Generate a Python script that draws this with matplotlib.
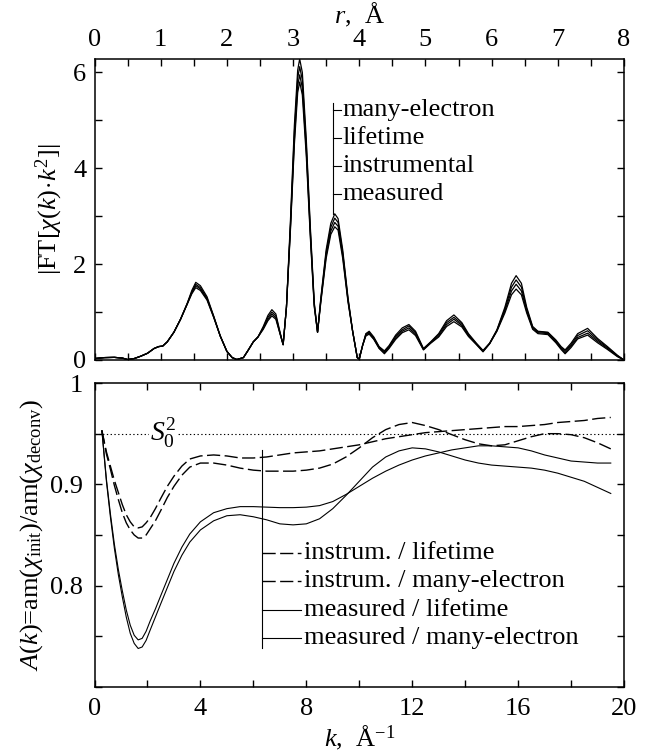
import matplotlib
matplotlib.use('Agg')
import matplotlib.pyplot as plt
from matplotlib.ticker import MultipleLocator, FixedLocator

# ---- top panel: |FT[chi(k) k^2]| vs r (four curves on a shared r grid)
r_grid = [0.00, 0.15, 0.30, 0.42, 0.50, 0.60, 0.70, 0.80, 0.90, 0.97,
          1.03, 1.10, 1.20, 1.30, 1.40, 1.47, 1.53, 1.60, 1.70, 1.80,
          1.90, 2.00, 2.08, 2.15, 2.25, 2.32, 2.40, 2.47, 2.55, 2.62,
          2.68, 2.74, 2.80, 2.85, 2.90, 2.96, 3.02, 3.07, 3.10, 3.14,
          3.20, 3.26, 3.32, 3.37, 3.42, 3.50, 3.57, 3.63, 3.68, 3.75,
          3.83, 3.90, 3.97, 4.00, 4.05, 4.10, 4.15, 4.22, 4.30, 4.38,
          4.45, 4.55, 4.65, 4.75, 4.85, 4.97, 5.08, 5.20, 5.32, 5.43,
          5.55, 5.65, 5.77, 5.87, 5.97, 6.08, 6.20, 6.30, 6.37, 6.45,
          6.53, 6.62, 6.70, 6.85, 6.97, 7.05, 7.11, 7.20, 7.30, 7.45,
          7.60, 7.75, 7.90, 8.00]

ft_many_electron = [0.03, 0.05, 0.055, 0.04, 0.01, 0.03, 0.08, 0.14, 0.24, 0.28,
                    0.29, 0.38, 0.58, 0.85, 1.18, 1.45, 1.62, 1.55, 1.32, 0.92,
                    0.50, 0.18, 0.05, 0.01, 0.05, 0.20, 0.38, 0.48, 0.70, 0.93,
                    1.05, 0.96, 0.60, 0.32, 1.10, 2.90, 4.90, 6.05, 6.28, 6.00,
                    4.60, 2.80, 1.20, 0.58, 1.30, 2.30, 2.85, 3.05, 2.95, 2.30,
                    1.30, 0.60, 0.05, 0.02, 0.30, 0.55, 0.60, 0.48, 0.28, 0.19,
                    0.30, 0.52, 0.67, 0.74, 0.60, 0.24, 0.38, 0.55, 0.82, 0.94,
                    0.78, 0.55, 0.35, 0.20, 0.35, 0.63, 1.10, 1.60, 1.76, 1.60,
                    1.10, 0.70, 0.60, 0.58, 0.42, 0.28, 0.21, 0.35, 0.55, 0.66,
                    0.45, 0.28, 0.10, 0.00]
ft_lifetime = [0.03, 0.05, 0.055, 0.04, 0.01, 0.03, 0.08, 0.14, 0.24, 0.28,
               0.29, 0.38, 0.58, 0.85, 1.17, 1.42, 1.58, 1.51, 1.29, 0.91,
               0.50, 0.18, 0.05, 0.01, 0.05, 0.20, 0.38, 0.48, 0.68, 0.89,
               1.00, 0.92, 0.58, 0.32, 1.10, 2.80, 4.75, 5.88, 6.12, 5.84,
               4.48, 2.72, 1.17, 0.58, 1.27, 2.24, 2.77, 2.96, 2.87, 2.24,
               1.27, 0.60, 0.05, 0.02, 0.30, 0.54, 0.58, 0.46, 0.27, 0.17,
               0.28, 0.49, 0.63, 0.71, 0.57, 0.23, 0.37, 0.53, 0.78, 0.89,
               0.75, 0.53, 0.34, 0.19, 0.35, 0.62, 1.06, 1.52, 1.67, 1.52,
               1.06, 0.68, 0.59, 0.57, 0.40, 0.26, 0.18, 0.32, 0.51, 0.61,
               0.42, 0.26, 0.09, 0.00]
ft_instrumental = [0.03, 0.05, 0.055, 0.04, 0.01, 0.03, 0.08, 0.14, 0.24, 0.28,
                   0.29, 0.38, 0.58, 0.85, 1.17, 1.40, 1.55, 1.48, 1.27, 0.90,
                   0.50, 0.18, 0.05, 0.01, 0.05, 0.20, 0.38, 0.48, 0.66, 0.85,
                   0.96, 0.88, 0.57, 0.32, 1.10, 2.75, 4.60, 5.72, 5.95, 5.68,
                   4.36, 2.65, 1.14, 0.58, 1.24, 2.18, 2.69, 2.87, 2.79, 2.18,
                   1.24, 0.60, 0.05, 0.02, 0.30, 0.52, 0.56, 0.44, 0.25, 0.15,
                   0.26, 0.46, 0.60, 0.67, 0.54, 0.22, 0.36, 0.50, 0.74, 0.85,
                   0.72, 0.51, 0.33, 0.18, 0.34, 0.61, 1.02, 1.44, 1.58, 1.44,
                   1.02, 0.66, 0.57, 0.55, 0.38, 0.24, 0.15, 0.29, 0.47, 0.56,
                   0.39, 0.24, 0.08, 0.00]
ft_measured = [0.03, 0.05, 0.055, 0.04, 0.01, 0.03, 0.08, 0.14, 0.24, 0.28,
               0.29, 0.38, 0.58, 0.85, 1.16, 1.38, 1.51, 1.45, 1.25, 0.89,
               0.50, 0.18, 0.05, 0.01, 0.05, 0.20, 0.38, 0.48, 0.64, 0.82,
               0.92, 0.85, 0.56, 0.32, 1.10, 2.70, 4.50, 5.58, 5.80, 5.53,
               4.25, 2.58, 1.11, 0.58, 1.21, 2.12, 2.62, 2.78, 2.71, 2.12,
               1.21, 0.60, 0.05, 0.02, 0.30, 0.50, 0.54, 0.43, 0.24, 0.13,
               0.24, 0.43, 0.57, 0.63, 0.51, 0.21, 0.35, 0.48, 0.70, 0.80,
               0.69, 0.49, 0.32, 0.17, 0.34, 0.60, 0.98, 1.36, 1.48, 1.36,
               0.98, 0.64, 0.55, 0.53, 0.36, 0.22, 0.13, 0.26, 0.44, 0.52,
               0.36, 0.22, 0.07, 0.00]
top_labels = ['many-electron', 'lifetime', 'instrumental', 'measured']

# ---- bottom panel: amplitude ratio A(k)
k_grid = [0.28, 0.45, 0.60, 0.75, 0.90, 1.05, 1.20, 1.35, 1.50, 1.65,
          1.80, 1.95, 2.10, 2.30, 2.50, 2.75, 3.00, 3.30, 3.60, 4.00,
          4.50, 5.00, 5.50, 6.00, 6.50, 7.00, 7.50, 8.00, 8.50, 9.00,
          9.50, 10.0, 10.5, 11.0, 11.5, 12.0, 12.5, 13.0, 13.5, 14.0,
          14.5, 15.0, 15.5, 16.0, 16.5, 17.0, 17.5, 18.0, 18.5, 19.0,
          19.5]
a_instr_life = [0.953, 0.932, 0.918, 0.904, 0.892, 0.880, 0.870, 0.863, 0.858, 0.857,
                0.858, 0.862, 0.867, 0.876, 0.886, 0.898, 0.908, 0.918, 0.925, 0.928,
                0.929, 0.928, 0.926, 0.926, 0.927, 0.929, 0.931, 0.932, 0.933, 0.935,
                0.937, 0.939, 0.942, 0.945, 0.947, 0.949, 0.951, 0.952, 0.953, 0.954,
                0.955, 0.956, 0.957, 0.957, 0.958, 0.959, 0.961, 0.962, 0.963, 0.965,
                0.966]
a_instr_many = [0.953, 0.930, 0.915, 0.899, 0.885, 0.872, 0.862, 0.855, 0.850, 0.847,
                0.847, 0.850, 0.856, 0.864, 0.874, 0.887, 0.898, 0.909, 0.917, 0.921,
                0.921, 0.919, 0.916, 0.914, 0.913, 0.913, 0.913, 0.914, 0.916, 0.920,
                0.927, 0.936, 0.946, 0.954, 0.959, 0.961, 0.958, 0.954, 0.949, 0.944,
                0.940, 0.938, 0.939, 0.943, 0.947, 0.950, 0.950, 0.949, 0.946, 0.941,
                0.935]
a_meas_life = [0.953, 0.905, 0.871, 0.841, 0.816, 0.795, 0.776, 0.761, 0.751, 0.7465,
               0.748, 0.755, 0.765, 0.777, 0.790, 0.806, 0.822, 0.838, 0.851, 0.863,
               0.872, 0.876, 0.878, 0.878, 0.8775, 0.877, 0.877, 0.8775, 0.879, 0.883,
               0.890, 0.898, 0.906, 0.913, 0.919, 0.924, 0.928, 0.931, 0.934, 0.936,
               0.938, 0.938, 0.937, 0.936, 0.933, 0.929, 0.926, 0.923, 0.922, 0.921,
               0.921]
a_meas_many = [0.953, 0.903, 0.868, 0.837, 0.811, 0.789, 0.769, 0.753, 0.743, 0.738,
               0.7395, 0.746, 0.756, 0.769, 0.782, 0.798, 0.814, 0.830, 0.843, 0.855,
               0.864, 0.869, 0.870, 0.868, 0.865, 0.861, 0.860, 0.861, 0.866, 0.876,
               0.889, 0.903, 0.917, 0.927, 0.933, 0.936, 0.935, 0.932, 0.928, 0.924,
               0.921, 0.919, 0.918, 0.917, 0.916, 0.914, 0.911, 0.907, 0.903, 0.897,
               0.891]
bottom_labels = ['instrum. / lifetime', 'instrum. / many-electron',
                 'measured / lifetime', 'measured / many-electron']
s0_squared = 0.95

plt.rcParams.update({
    'font.family': ['Liberation Serif', 'DejaVu Serif'],
    'mathtext.fontset': 'custom',
    'mathtext.rm': 'Liberation Serif',
    'mathtext.it': 'Liberation Serif:italic',
    'mathtext.bf': 'Liberation Serif:bold',
    'font.size': 19,
    'axes.linewidth': 1.1,
    'xtick.direction': 'in',
    'ytick.direction': 'in',
    'xtick.major.size': 5, 'xtick.minor.size': 5,
    'ytick.major.size': 5, 'ytick.minor.size': 5,
    'xtick.major.width': 1.0, 'xtick.minor.width': 1.0,
    'ytick.major.width': 1.0, 'ytick.minor.width': 1.0,
})

W, H = 657, 753
fig = plt.figure(figsize=(W / 100, H / 100), dpi=100)
ax1 = fig.add_axes([94.5 / W, 1 - 360 / H, 529.5 / W, 301 / H])
ax2 = fig.add_axes([94.5 / W, 1 - 687 / H, 529.5 / W, 304 / H])

# top panel
for y in (ft_many_electron, ft_lifetime, ft_instrumental, ft_measured):
    ax1.plot(r_grid, y, color='black', lw=0.9)
ax1.set_xlim(0, 8)
ax1.set_ylim(0, 6.28)
ax1.xaxis.set_major_locator(MultipleLocator(1))
ax1.xaxis.set_minor_locator(MultipleLocator(0.5))
ax1.yaxis.set_major_locator(MultipleLocator(2))
ax1.yaxis.set_minor_locator(MultipleLocator(1))
ax1.tick_params(which='both', top=True, bottom=True, left=True, right=True,
                labeltop=True, labelbottom=False, pad=6)
ax1.xaxis.set_label_position('top')
ax1.set_xlabel(r'$r$,  Å', labelpad=4)
ax1.set_ylabel(r'$|\mathrm{FT}[\chi(k)\!\cdot\! k^2]|$', labelpad=6)

# bracket legend in the top panel
lx, ltick, ltext = 3.61, 3.72, 3.74
ly = [5.22, 4.63, 4.05, 3.46]
ax1.plot([lx, lx], [5.37, 3.05], color='black', lw=0.8)
for yy, lab in zip(ly, top_labels):
    ax1.plot([lx, ltick], [yy, yy], color='black', lw=0.8)
    ax1.text(ltext, yy, lab, va='center', ha='left')

# bottom panel
dash = (0, (9.5, 3.2))
ax2.plot(k_grid, a_instr_life, color='black', lw=1.0, ls=dash)
ax2.plot(k_grid, a_instr_many, color='black', lw=1.0, ls=dash)
ax2.plot(k_grid, a_meas_life, color='black', lw=0.8)
ax2.plot(k_grid, a_meas_many, color='black', lw=0.8)
ax2.axhline(s0_squared, color='black', lw=0.8, ls=(0, (1.2, 2.2)))
ax2.text(2.6, s0_squared, r'$S_0^2$', ha='center', va='center', fontsize=20,
         bbox=dict(facecolor='white', edgecolor='none', pad=0.5))
ax2.set_xlim(0, 20)
ax2.set_ylim(0.7, 1.0)
ax2.xaxis.set_major_locator(MultipleLocator(4))
ax2.xaxis.set_minor_locator(MultipleLocator(2))
ax2.yaxis.set_major_locator(FixedLocator([0.8, 0.9, 1.0]))
ax2.yaxis.set_minor_locator(MultipleLocator(0.05))
ax2.yaxis.set_major_formatter(plt.FuncFormatter(lambda v, p: '1' if v > 0.99 else f'{v:.1f}'))
ax2.tick_params(which='both', top=True, bottom=True, left=True, right=True, pad=8)
ax2.set_xlabel(r'$k$,  Å$^{\mathregular{-1}}$', labelpad=2)
ax2.set_ylabel(r'$A(k)$=am($\chi_{\mathrm{init}}$)/am($\chi_{\mathrm{deconv}}$)', labelpad=4)

# bracket legend in the bottom panel
bx, bend, btext = 6.34, 7.79, 7.93
by = [0.8325, 0.8043, 0.7762, 0.7480]
ax2.plot([bx, bx], [0.9334, 0.738], color='black', lw=0.8)
styles = [dash, dash, '-', '-']
for yy, lab, st in zip(by, bottom_labels, styles):
    ax2.plot([bx, bend], [yy, yy], color='black', lw=1.0 if st != '-' else 0.8, ls=st)
    ax2.text(btext, yy, lab, va='center', ha='left')

fig.savefig('out.png', dpi=100)
